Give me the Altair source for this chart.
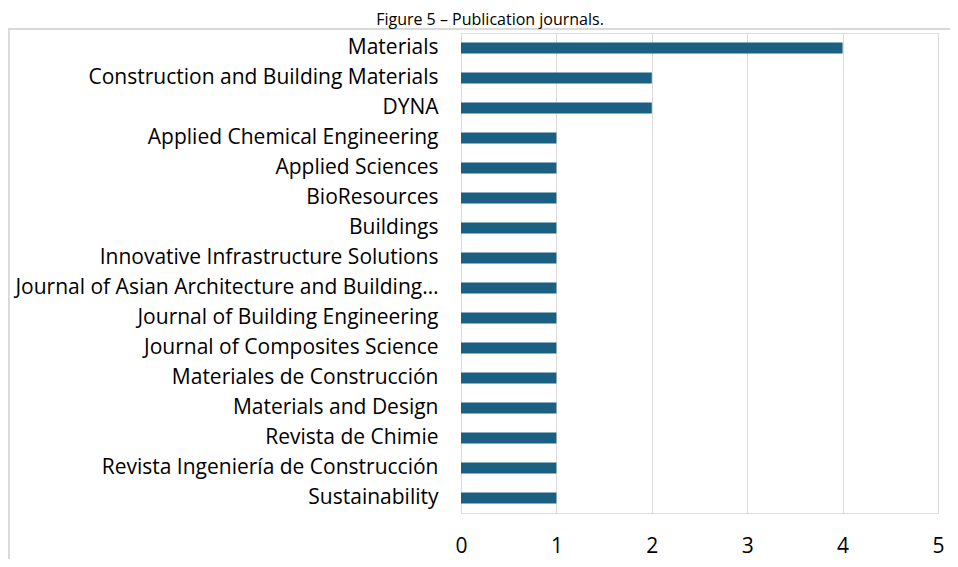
import altair as alt
import pandas as pd

journals = [
    "Materials",
    "Construction and Building Materials",
    "DYNA",
    "Applied Chemical Engineering",
    "Applied Sciences",
    "BioResources",
    "Buildings",
    "Innovative Infrastructure Solutions",
    "Journal of Asian Architecture and Building…",
    "Journal of Building Engineering",
    "Journal of Composites Science",
    "Materiales de Construcción",
    "Materials and Design",
    "Revista de Chimie",
    "Revista Ingeniería de Construcción",
    "Sustainability",
]
counts = [4, 2, 2, 1, 1, 1, 1, 1, 1, 1, 1, 1, 1, 1, 1, 1]
x_ticks = [0, 1, 2, 3, 4, 5]
title_text = "Figure 5 – Publication journals."

df = pd.DataFrame({"journal": journals, "count": counts})
title_df = pd.DataFrame({"t": [title_text]})

FONT = "Open Sans"
BAR = "#1b6082"
GRID = "#d9d9d9"

bars = alt.Chart(df).mark_bar(color=BAR).encode(
    x=alt.X(
        "count:Q",
        scale=alt.Scale(domain=[0, 5], nice=False),
        axis=alt.Axis(
            values=x_ticks,
            title=None,
            grid=True,
            gridColor=GRID,
            gridWidth=1,
            domain=False,
            ticks=False,
            tickSize=0,
            labelFont=FONT,
            labelFontSize=21,
            labelColor="#000000",
            labelBaseline="middle",
            labelPadding=33,
            labelFlush=False,
            labelOverlap=False,
        ),
    ),
    y=alt.Y(
        "journal:N",
        sort=None,
        scale=alt.Scale(paddingInner=0.63, paddingOuter=0.315),
        axis=alt.Axis(
            title=None,
            domain=False,
            ticks=False,
            tickSize=0,
            labelFont=FONT,
            labelFontSize=21,
            labelColor="#000000",
            labelPadding=23,
            labelLimit=460,
        ),
    ),
)

frame_left = alt.Chart(df).mark_rule(color=GRID, strokeWidth=1.5).encode(
    x=alt.value(-452.5), y=alt.value(-4), y2=alt.value(545)
)
frame_top = alt.Chart(df).mark_rule(color=GRID, strokeWidth=1.5).encode(
    x=alt.value(-453), x2=alt.value(489), y=alt.value(-4)
)

title = alt.Chart(title_df).mark_text(
    font=FONT, fontSize=16, color="#000000", align="center", baseline="alphabetic"
).encode(text="t:N", x=alt.value(29), y=alt.value(-8))

chart = (
    alt.layer(frame_left, frame_top, bars, title)
    .properties(
        width=477,
        height=480,
        autosize=alt.AutoSizeParams(type="none"),
        padding={"left": 453, "top": 25, "right": 12, "bottom": 46},
    )
    .configure_view(stroke=None)
    .configure(background="white")
)

chart.save("out.html", embed_options={"renderer": "svg", "actions": False})
